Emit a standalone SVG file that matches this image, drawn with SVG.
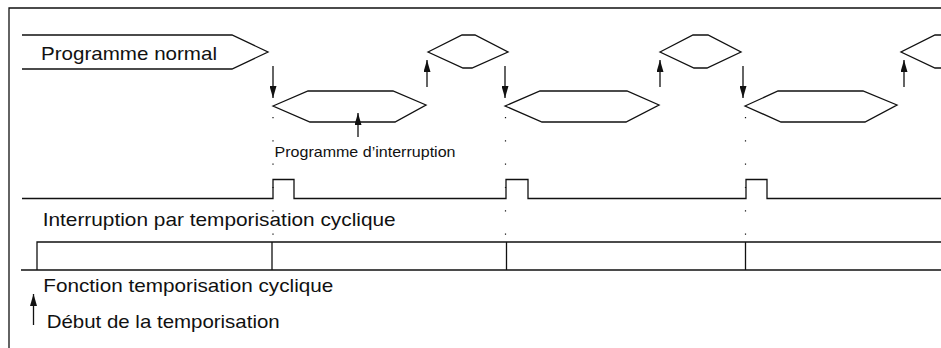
<svg xmlns="http://www.w3.org/2000/svg" width="941" height="348" viewBox="0 0 941 348">
<defs>
<style>
.ln{fill:none;stroke:#111;stroke-width:1.3}
.hx{fill:none;stroke:#111;stroke-width:1.3;stroke-linejoin:miter}
.dot{fill:none;stroke:#111;stroke-width:1.2;stroke-dasharray:1.2 22.1}
.ar{fill:none;stroke:#111;stroke-width:1.3;marker-end:url(#ah)}
.t{font-family:"Liberation Sans",Arial,sans-serif;fill:#111}
.big{font-size:19px}
.sm{font-size:15px}
</style>
<marker id="ah" markerUnits="userSpaceOnUse" markerWidth="12" markerHeight="7" refX="12" refY="3.5" orient="auto">
<path d="M0,0 L12,3.5 L0,7 z" fill="#111"/>
</marker>
</defs>
<rect width="941" height="348" fill="#fff"/>
<g id="frame">
<path class="ln" d="M9,348 V8 H941"/>
</g>
<g id="normal-program">
<path class="hx" d="M22,35 H232 L268,52 L232,69 H22"/>
<text class="t big" x="41" y="59.5" textLength="176" lengthAdjust="spacingAndGlyphs">Programme normal</text>
</g>
<g id="interrupt-1">
<path class="hx" d="M273,106 L308,91 H393 L426,105 L395,122 H310 Z"/>
</g>
<g id="resume-1">
<path class="hx" d="M428,52 L462,35 H475 L508,52 L472,68 H463 Z"/>
</g>
<g id="interrupt-2">
<path class="hx" d="M505,106 L540,91 H627 L659,105 L626,122 H542 Z"/>
</g>
<g id="resume-2">
<path class="hx" d="M660,52 L693,35 H708 L741,52 L707,68 H694 Z"/>
</g>
<g id="interrupt-3">
<path class="hx" d="M745,106 L778,91 H863 L897,105 L865,122 H781 Z"/>
</g>
<g id="resume-3">
<path class="hx" d="M941,35 H935 L901,52 L935,68 H941"/>
</g>
<g id="interrupt-label">
<text class="t sm" x="274.5" y="157" textLength="181" lengthAdjust="spacingAndGlyphs">Programme d’interruption</text>
</g>
<g id="interrupt-signal">
<path class="ln" d="M22,198.5 H273 V179.5 H294 V198.5 H506 V179.5 H528 V198.5 H746 V179.5 H767 V198.5 H941"/>
<text class="t big" x="42.7" y="226" textLength="353" lengthAdjust="spacingAndGlyphs">Interruption par temporisation cyclique</text>
</g>
<g id="timer-function">
<path class="ln" d="M37,270 V242 H941 M21,270 H941 M272,242 V270 M506.5,242 V270 M745.5,242 V270"/>
<text class="t big" x="43.3" y="292" textLength="290" lengthAdjust="spacingAndGlyphs">Fonction temporisation cyclique</text>
</g>
<g id="timer-start">
<text class="t big" x="46.7" y="328" textLength="233" lengthAdjust="spacingAndGlyphs">Début de la temporisation</text>
</g>
<g id="connectors">
<path class="ar" d="M273,66 V98"/>
<path class="ar" d="M427,87 V60"/>
<path class="ar" d="M358,137 V113"/>
<path class="ar" d="M505,66 V98"/>
<path class="ar" d="M660,87 V60"/>
<path class="ar" d="M743,66 V98"/>
<path class="ar" d="M904,87 V60"/>
<path class="ar" d="M33.5,325 V294"/>
<path class="dot" d="M273,117 V240"/>
<path class="dot" d="M505.5,117 V240"/>
<path class="dot" d="M745.5,117 V240"/>
</g>
</svg>
